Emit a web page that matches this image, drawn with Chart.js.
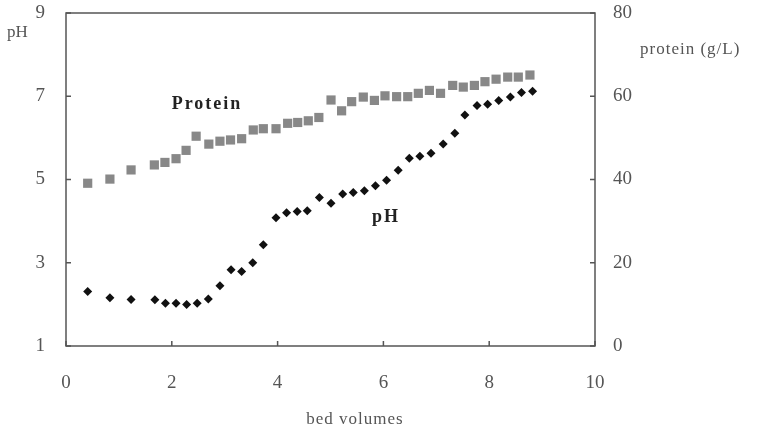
<!DOCTYPE html>
<html><head><meta charset="utf-8">
<script src="https://cdn.jsdelivr.net/npm/chart.js@4/dist/chart.umd.min.js"></script>
<style>html,body{margin:0;padding:0;background:#fff}#wrap{width:765px;height:431px}</style>
</head><body><div id="wrap"><canvas id="c" width="765" height="431"></canvas></div>
<script>
// bed volumes for protein samples
const proteinBV = [0.41,0.83,1.23,1.67,1.87,2.08,2.27,2.46,2.70,2.91,3.11,3.32,3.54,3.73,3.97,4.19,4.38,4.58,4.78,5.01,5.21,5.40,5.62,5.83,6.03,6.25,6.46,6.66,6.87,7.08,7.31,7.51,7.72,7.92,8.13,8.35,8.55,8.77];
// protein (g/L)
const proteinVals = [39.1,40.1,42.3,43.5,44.1,45.0,47.0,50.4,48.5,49.2,49.5,49.8,51.9,52.2,52.2,53.5,53.7,54.1,54.9,59.1,56.5,58.7,59.8,59.0,60.1,59.9,59.9,60.7,61.4,60.7,62.6,62.2,62.6,63.5,64.1,64.6,64.6,65.1];
// bed volumes for pH samples
const phBV = [0.41,0.83,1.23,1.68,1.88,2.08,2.28,2.48,2.69,2.91,3.12,3.32,3.53,3.73,3.97,4.17,4.37,4.56,4.79,5.01,5.23,5.43,5.64,5.85,6.06,6.28,6.49,6.69,6.90,7.13,7.35,7.54,7.77,7.97,8.18,8.40,8.61,8.82];
// pH values
const phVals = [2.31,2.16,2.12,2.11,2.03,2.03,2.00,2.03,2.13,2.45,2.83,2.79,3.00,3.43,4.08,4.20,4.23,4.25,4.57,4.43,4.65,4.69,4.73,4.85,4.98,5.22,5.51,5.56,5.63,5.85,6.11,6.55,6.78,6.81,6.90,6.98,7.09,7.12];
const xTicks = [0,2,4,6,8,10];
const phTicks = [1,3,5,7,9];
const proteinTicks = [0,20,40,60,80];

const SERIF = '"Liberation Serif", "DejaVu Serif", serif';
const TXT = '#555';

const framePlugin = {
  id: 'frame',
  beforeDatasetsDraw(chart) {
    const {ctx, chartArea: a, scales} = chart;
    ctx.save();
    ctx.strokeStyle = '#555';
    ctx.lineWidth = 1.5;
    ctx.strokeRect(a.left, a.top, a.right - a.left, a.bottom - a.top);
    ctx.beginPath();
    xTicks.forEach(v => { const p = scales.x.getPixelForValue(v); ctx.moveTo(p, a.bottom); ctx.lineTo(p, a.bottom - 5); });
    phTicks.forEach(v => { const p = scales.y.getPixelForValue(v); ctx.moveTo(a.left, p); ctx.lineTo(a.left + 5, p); });
    proteinTicks.forEach(v => { const p = scales.y1.getPixelForValue(v); ctx.moveTo(a.right, p); ctx.lineTo(a.right - 5, p); });
    ctx.stroke();
    ctx.restore();
  },
  afterDraw(chart) {
    const {ctx} = chart;
    ctx.save();
    ctx.fillStyle = TXT;
    ctx.textBaseline = 'middle';
    ctx.font = '17px ' + SERIF;
    ctx.textAlign = 'left';
    ctx.fillText('pH', 7, 33);
    ctx.letterSpacing = '1px';
    ctx.fillText('protein (g/L)', 640, 50);
    ctx.textAlign = 'center';
    ctx.fillText('bed volumes', 355, 420);
    ctx.letterSpacing = '2px';
    ctx.fillStyle = '#222';
    ctx.font = 'bold 18px ' + SERIF;
    ctx.fillText('Protein', 207, 104);
    ctx.fillText('pH', 386, 217);
    ctx.restore();
  }
};

function fixV(w) { return s => { s.width = w; s.paddingTop = 0; s.paddingBottom = 0; }; }

new Chart(document.getElementById('c'), {
  type: 'scatter',
  data: {
    datasets: [
      { label: 'Protein', data: proteinBV.map((x, i) => ({x, y: proteinVals[i]})), yAxisID: 'y1',
        pointStyle: 'rect', pointRadius: 6.5, backgroundColor: '#888', borderColor: '#888', borderWidth: 0 },
      { label: 'pH', data: phBV.map((x, i) => ({x, y: phVals[i]})), yAxisID: 'y',
        pointStyle: 'rectRot', pointRadius: 4.5, backgroundColor: '#111', borderColor: '#111', borderWidth: 0 }
    ]
  },
  options: {
    responsive: false, animation: false, devicePixelRatio: 1,
    layout: { padding: { top: 13, left: 0, right: 0, bottom: 0 } },
    plugins: { legend: { display: false }, tooltip: { enabled: false } },
    scales: {
      x: { type: 'linear', min: 0, max: 10, position: 'bottom',
        afterBuildTicks: s => { s.ticks = xTicks.map(v => ({value: v})); },
        ticks: { color: TXT, font: { family: SERIF, size: 19 }, padding: 26 },
        grid: { display: false, drawTicks: false }, border: { display: false },
        afterFit: s => { s.height = 85; s.paddingLeft = 0; s.paddingRight = 0; } },
      y: { type: 'linear', min: 1, max: 9, position: 'left',
        afterBuildTicks: s => { s.ticks = phTicks.map(v => ({value: v})); },
        ticks: { color: TXT, font: { family: SERIF, size: 19 }, padding: 21 },
        grid: { display: false, drawTicks: false }, border: { display: false },
        afterFit: fixV(66) },
      y1: { type: 'linear', min: 0, max: 80, position: 'right',
        afterBuildTicks: s => { s.ticks = proteinTicks.map(v => ({value: v})); },
        ticks: { color: TXT, font: { family: SERIF, size: 19 }, padding: 18 },
        grid: { display: false, drawTicks: false }, border: { display: false },
        afterFit: fixV(170) }
    }
  },
  plugins: [framePlugin]
});
</script></body></html>
